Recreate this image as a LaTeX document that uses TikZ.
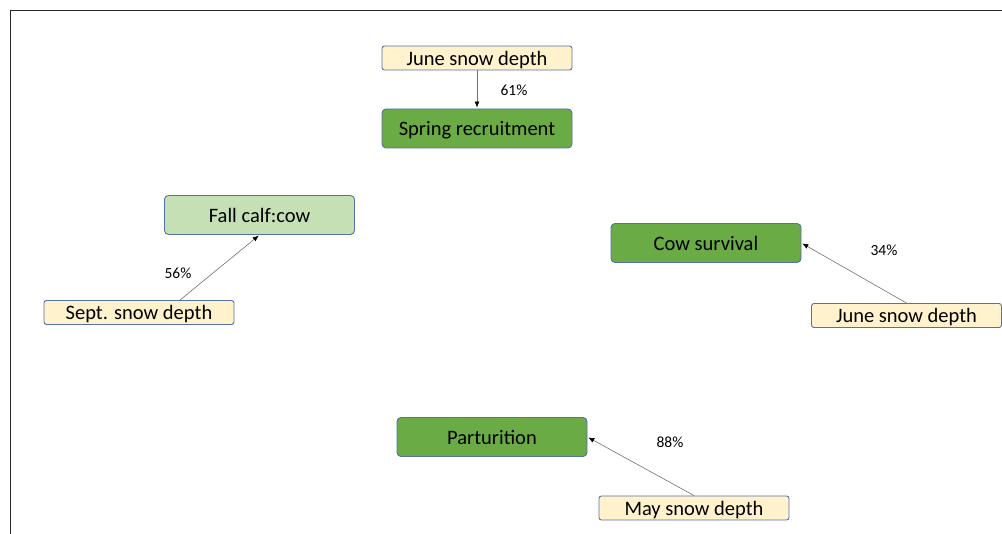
\documentclass[tikz,border=0pt]{standalone}
\usepackage{fontspec}
\setmainfont{Carlito}
\usetikzlibrary{arrows.meta}
\definecolor{boxedge}{HTML}{5572A8}
\definecolor{snowfill}{HTML}{FFF2CC}
\definecolor{darkgreen}{HTML}{6AAB45}
\definecolor{lightgreen}{HTML}{C5E0B4}
\definecolor{linkgray}{HTML}{707070}
\tikzset{
  x=1pt, y=-1pt,
  boxtext/.style={font=\fontsize{20.5}{22}\selectfont, text height=15pt, text depth=0pt, inner sep=0pt},
  driver/.style={boxtext, draw=boxedge, line width=0.9pt, fill=snowfill, rounded corners=2.5pt,
    minimum width=190pt, minimum height=24pt},
  outcome/.style={boxtext, draw=boxedge, line width=0.9pt, fill=darkgreen, rounded corners=4pt,
    minimum width=190pt, minimum height=39pt},
  outcomelight/.style={outcome, fill=lightgreen},
  link/.style={draw=linkgray, line width=0.6pt, -{Latex[length=6pt,width=5pt,black]}, shorten >=1pt},
  pct/.style={font=\fontsize{15.5}{17}\selectfont, inner sep=0pt}
}
\begin{document}
\begin{tikzpicture}
\useasboundingbox (0,0) rectangle (1002,534);
% frame lines along the top and left
\draw[line width=1.2pt, black!85] (1002,10.5) -- (10.5,10.5) -- (10.5,534);

% top pair
\node[driver] (june1) at (477,58) {June snow depth};
\node[outcome] (spring) at (477,128.5) {Spring recruitment};
\draw[link] (june1) -- (spring);
\node[pct] (p61) at (514,90) {61\%};

% left pair
\node[outcomelight] (fall) at (259.5,215) {Fall calf:cow};
\node[driver] (sept) at (139,312.5) {Sept. snow depth};
\path (sept.north) ++(41,0) coordinate (septout);
\draw[link] (septout) -- (fall.south);
\node[pct] (p56) at (178,273) {56\%};

% right pair
\node[outcome] (cow) at (706,243) {Cow survival};
\node[driver] (june2) at (906.5,315.5) {June snow depth};
\draw[link] (june2.north) -- (cow.east);
\node[pct] (p34) at (884,250) {34\%};

% bottom pair
\node[outcome] (part) at (492,437) {Parturition};
\node[driver] (may) at (694,508) {May snow depth};
\draw[link] (may.north) -- (part.east);
\node[pct] (p88) at (670,442) {88\%};
\end{tikzpicture}
\end{document}
